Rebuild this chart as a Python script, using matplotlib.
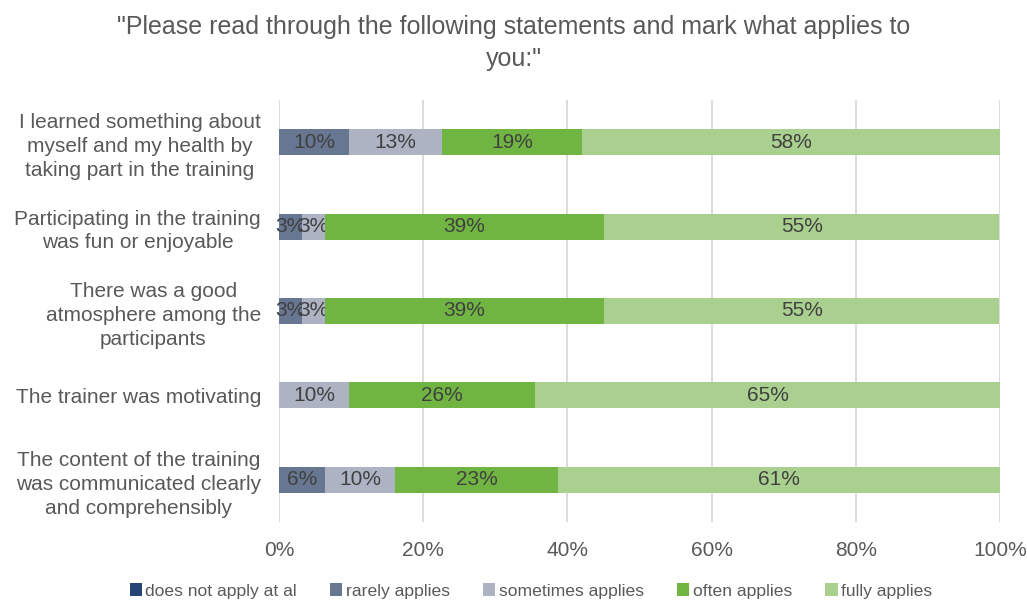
import numpy as np
import matplotlib.pyplot as plt

plt.rcParams['font.family'] = ['Liberation Sans', 'DejaVu Sans']

statements = [
    'I learned something about\nmyself and my health by\ntaking part in the training',
    'Participating in the training\nwas fun or enjoyable',
    'There was a good\natmosphere among the\nparticipants',
    'The trainer was motivating',
    'The content of the training\nwas communicated clearly\nand comprehensibly',
]
answers = ['does not apply at al', 'rarely applies', 'sometimes applies',
           'often applies', 'fully applies']
colors = ['#264478', '#677791', '#adb3c3', '#70b541', '#a9d08e']

# shares per statement, in percent
not_at_all = [0.0, 0.0, 0.0, 0.0, 0.0]
rarely = [9.7, 3.2, 3.2, 0.0, 6.4]
sometimes = [12.9, 3.2, 3.2, 9.7, 9.7]
often = [19.4, 38.7, 38.7, 25.8, 22.6]
fully = [58.1, 54.8, 54.8, 64.5, 61.3]
series = [not_at_all, rarely, sometimes, often, fully]

fig = plt.figure(figsize=(10.27, 6.03), dpi=100)
ax = fig.add_axes([0.2717, 0.1343, 0.702, 0.6999])

y = np.arange(len(statements))
left = np.zeros(len(statements))
for name, vals, c in zip(answers, series, colors):
    vals = np.array(vals)
    bars = ax.barh(y, vals, left=left, height=0.31, color=c, label=name, zorder=3)
    labels = ['%d%%' % int(v + 0.5) if v > 0 else '' for v in vals]
    ax.bar_label(bars, labels=labels, label_type='center', color='#404040', fontsize=15)
    left += vals

ax.set_xlim(0, 100)
ax.set_ylim(4.5, -0.5)
ax.set_xticks(np.arange(0, 101, 20))
ax.set_xticklabels(['%d%%' % t for t in range(0, 101, 20)])
ax.set_yticks(y)
ax.set_yticklabels(statements, multialignment='center', linespacing=1.32)
ax.tick_params(axis='both', length=0, colors='#595959', labelsize=15)
ax.tick_params(axis='x', pad=14)
ax.tick_params(axis='y', pad=13)
ax.grid(axis='x', color='#d9d9d9', linewidth=1.3, zorder=0)
for s in ax.spines.values():
    s.set_visible(False)

fig.suptitle('"Please read through the following statements and mark what applies to\nyou:"',
             y=0.975, fontsize=18, color='#595959', linespacing=1.4)

fig.legend(loc='lower center', ncol=5, bbox_to_anchor=(0.517, -0.019), frameon=False,
           fontsize=12.6, labelcolor='#595959', handlelength=0.7, handleheight=0.7,
           handletextpad=0.2, columnspacing=1.9)

fig.savefig('out.png', dpi=100)
